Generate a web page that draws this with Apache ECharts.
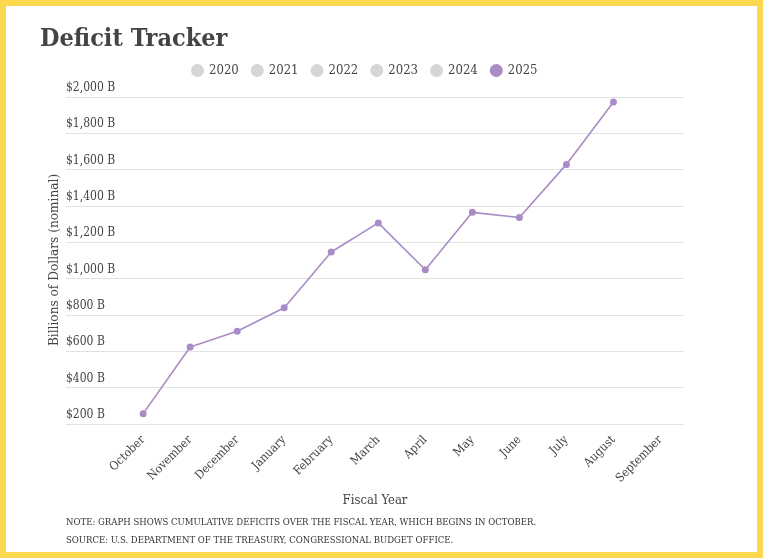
<!DOCTYPE html>
<html>
<head>
<meta charset="utf-8">
<script src="https://cdn.jsdelivr.net/npm/echarts@6/dist/echarts.min.js"></script>
<style>
html,body{margin:0;padding:0;background:#fdd94f;}
#wrap{position:absolute;left:6px;top:6px;width:751px;height:546px;background:#fff;}
#chart{position:absolute;left:-6px;top:-6px;width:763px;height:558px;}
</style>
</head>
<body>
<div id="wrap"><div id="chart"></div></div>
<script>
const months = ['October','November','December','January','February','March','April','May','June','July','August','September'];
const years = ['2020','2021','2022','2023','2024','2025'];
const deficit2025 = [257, 624, 711, 840, 1147, 1307, 1049, 1365, 1337, 1629, 1973];
const yTicks = [200, 400, 600, 800, 1000, 1200, 1400, 1600, 1800, 2000];

const FONT = '"DejaVu Serif Condensed", "DejaVu Serif", serif';
const chart = echarts.init(document.getElementById('chart'), null, {renderer:'canvas'});

const series = years.map((y, idx) => {
  const active = y === '2025';
  return {
    name: y,
    type: 'line',
    data: active ? deficit2025.map((v, i) => [i, v]) : [],
    color: active ? '#a98bc6' : '#d6d6d6',
    symbol: 'circle',
    symbolSize: 7,
    lineStyle: {width: 1.6, color: '#a98bc6'},
    itemStyle: {color: active ? '#a98bc6' : '#d6d6d6'},
    emphasis: {disabled: true},
    z: 5
  };
});

chart.setOption({
  animation: false,
  backgroundColor: 'transparent',
  title: [{
    text: 'Deficit Tracker',
    left: 40, top: 27, padding: 0,
    textStyle: {fontFamily: FONT, fontSize: 25, fontWeight: 'bold', color: '#444'}
  }, {
    text: 'NOTE: GRAPH SHOWS CUMULATIVE DEFICITS OVER THE FISCAL YEAR, WHICH BEGINS IN OCTOBER.',
    left: 66, top: 518, padding: 0,
    textStyle: {fontFamily: FONT, fontSize: 9.5, fontWeight: 'normal', color: '#333'}
  }, {
    text: 'SOURCE: U.S. DEPARTMENT OF THE TREASURY, CONGRESSIONAL BUDGET OFFICE.',
    left: 66, top: 536, padding: 0,
    textStyle: {fontFamily: FONT, fontSize: 9.5, fontWeight: 'normal', color: '#333'}
  }],
  graphic: [{
    type: 'text',
    x: 54, y: 260,
    rotation: Math.PI / 2,
    style: {
      text: 'Billions of Dollars (nominal)',
      align: 'center', verticalAlign: 'middle',
      font: '13.5px ' + FONT,
      fill: '#444'
    }
  }],
  legend: {
    data: years,
    left: 191, top: 64, padding: 0,
    icon: 'circle',
    itemWidth: 13, itemHeight: 13,
    itemGap: 12,
    textStyle: {fontFamily: FONT, fontSize: 13, color: '#444'},
    selectedMode: false
  },
  grid: {left: 66, right: 79, top: 97, bottom: 134, containLabel: false},
  xAxis: {
    type: 'value',
    min: -1.64, max: 11.5,
    name: 'Fiscal Year',
    nameLocation: 'middle',
    nameGap: 70,
    nameTextStyle: {fontFamily: FONT, fontSize: 13, color: '#444'},
    axisLine: {show: false},
    axisTick: {show: false},
    splitLine: {show: false},
    axisLabel: {
      customValues: months.map((m, i) => i),
      formatter: v => months[Math.round(v)],
      rotate: 45,
      margin: 14,
      fontFamily: FONT, fontSize: 12, color: '#444'
    }
  },
  yAxis: {
    type: 'value',
    min: 200, max: 2000, interval: 200,
    axisLine: {show: false},
    axisTick: {show: false},
    splitLine: {show: true, lineStyle: {color: '#e2e2e2', width: 1}},
    axisLabel: {
      inside: true,
      margin: 0,
      verticalAlign: 'bottom',
      padding: [0, 0, 3, 0],
      formatter: v => '$' + v.toLocaleString('en-US') + ' B',
      fontFamily: FONT, fontSize: 12, color: '#444'
    }
  },
  series: series
});
</script>
</body>
</html>
